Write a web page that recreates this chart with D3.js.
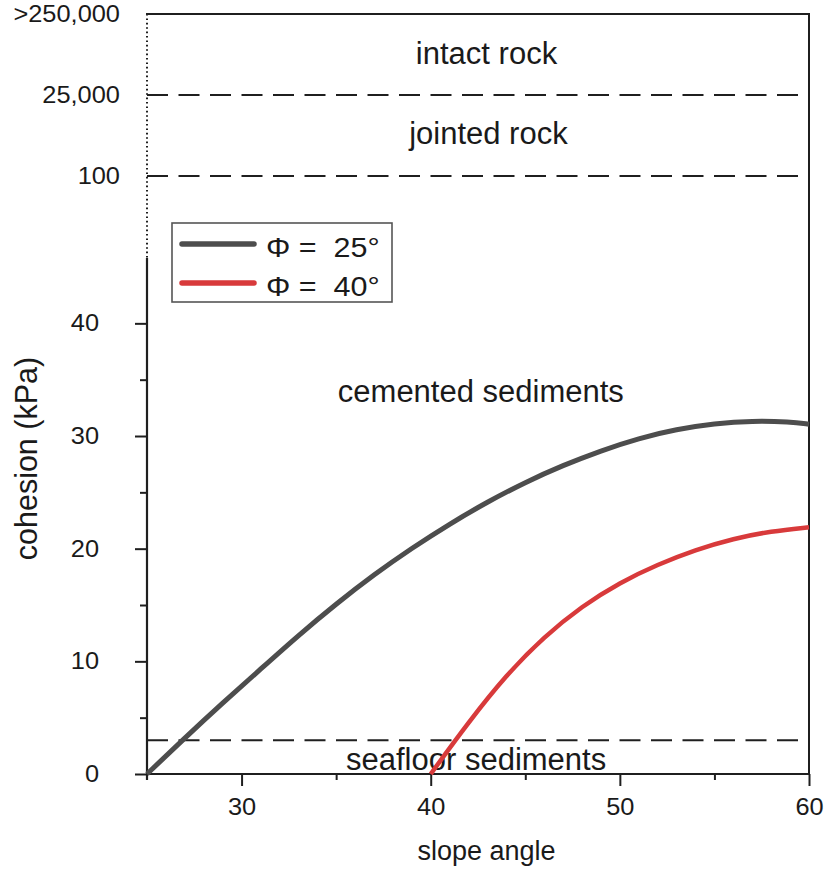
<!DOCTYPE html>
<html>
<head>
<meta charset="utf-8">
<script src="https://cdn.jsdelivr.net/npm/d3@7"></script>
<style>
  html, body { margin: 0; padding: 0; background: #fff; }
  svg { display: block; }
  text { font-family: "Liberation Sans", Arial, Helvetica, sans-serif; fill: #1a1a1a; }
</style>
</head>
<body>
<svg id="chart" width="826" height="870"></svg>
<script>
// Slope angle (degrees) vs. cohesion (kPa) needed for stability
const angles25   = [25, 27, 29, 31, 33, 35, 37, 39, 41, 43, 45, 47, 49, 51, 53, 55, 57, 59, 60];
const cohesion25 = [0, 3.2, 6.3, 9.3, 12.3, 15.1, 17.7, 20.05, 22.2, 24.15, 25.9, 27.4, 28.7, 29.8, 30.6, 31.1, 31.35, 31.25, 31.05];
const angles40   = [40, 42, 44, 46, 48, 50, 52, 54, 56, 58, 60];
const cohesion40 = [0, 4.6, 8.8, 12.2, 14.9, 17.0, 18.6, 19.9, 20.9, 21.55, 21.9];

const legendLabels = ["Φ =  25°", "Φ =  40°"];
const seriesColors = ["#4d4d4d", "#d83a3b"];

// Axis ticks
const xMajorTicks = [30, 40, 50, 60];
const xMinorTicks = [35, 45, 55];
const yMajorTicks = [0, 10, 20, 30, 40];
const yMinorTicks = [5, 15, 25, 35];
const rockLevels = [">250,000", "25,000", "100"];   // non-linear upper band
const seafloorLimit = 3;                             // kPa

const regionLabels = ["intact rock", "jointed rock", "cemented sediments", "seafloor sediments"];

const svg = d3.select("#chart");
const plotLeft = 147, plotRight = 809, plotBottom = 774, plotTop = 14, lowerTop = 258;

const x = d3.scaleLinear().domain([25, 60]).range([plotLeft, plotRight]);
const y = d3.scaleLinear().domain([0, 45.8]).range([plotBottom, lowerTop]);
const yRock = d3.scalePoint().domain(rockLevels).range([plotTop, 176]);

const ink = "#1f1f1f";

// Widen glyph runs slightly along the text direction
function widen(sel, k) {
  sel.each(function () {
    const len = this.getComputedTextLength();
    d3.select(this).attr("textLength", len * k).attr("lengthAdjust", "spacingAndGlyphs");
  });
}

// Frame: top and right edges
svg.append("line").attr("x1", plotLeft - 1).attr("x2", plotRight).attr("y1", plotTop).attr("y2", plotTop)
  .attr("stroke", ink).attr("stroke-width", 2);
svg.append("line").attr("x1", plotRight).attr("x2", plotRight).attr("y1", plotTop - 1).attr("y2", plotBottom)
  .attr("stroke", ink).attr("stroke-width", 2);

// Dotted axis segment for the rock band
svg.append("line").attr("x1", plotLeft).attr("x2", plotLeft).attr("y1", plotTop).attr("y2", lowerTop)
  .attr("stroke", ink).attr("stroke-width", 2).attr("stroke-dasharray", "1.6,2.8");

// Upper band labels
svg.append("g").selectAll("text").data(rockLevels).join("text")
  .attr("x", 120).attr("y", d => yRock(d)).attr("dy", "0.36em")
  .attr("text-anchor", "end").style("font-size", "23.5px").text(d => d)
  .call(widen, 1.08);

// Dashed boundaries
const dashed = [yRock("25,000"), yRock("100"), y(seafloorLimit)];
svg.append("g").selectAll("line").data(dashed).join("line")
  .attr("x1", plotLeft).attr("x2", plotRight - 4).attr("y1", d => d).attr("y2", d => d)
  .attr("stroke", ink).attr("stroke-width", 2).attr("stroke-dasharray", "21,10.5");

// Y axis
const yAxis = svg.append("g").attr("transform", `translate(${plotLeft},0)`)
  .call(d3.axisLeft(y).tickValues(yMajorTicks).tickSize(12).tickPadding(36).tickSizeOuter(0));
yAxis.select(".domain").remove();
yAxis.selectAll(".tick line").attr("stroke", ink).attr("stroke-width", 2);
yAxis.selectAll(".tick text").style("font-size", "23.5px").attr("fill", "#1a1a1a")
  .attr("font-family", null).call(widen, 1.08);
const yMinor = svg.append("g").attr("transform", `translate(${plotLeft},0)`)
  .call(d3.axisLeft(y).tickValues(yMinorTicks).tickSize(7).tickFormat(""));
yMinor.select(".domain").remove();
yMinor.selectAll(".tick line").attr("stroke", ink).attr("stroke-width", 2);
svg.append("line").attr("x1", plotLeft).attr("x2", plotLeft).attr("y1", lowerTop).attr("y2", plotBottom + 6)
  .attr("stroke", ink).attr("stroke-width", 2.2);

// X axis
const xAxis = svg.append("g").attr("transform", `translate(0,${plotBottom})`)
  .call(d3.axisBottom(x).tickValues(xMajorTicks).tickSize(12).tickPadding(12).tickSizeOuter(0));
xAxis.select(".domain").remove();
xAxis.selectAll(".tick line").attr("stroke", ink).attr("stroke-width", 2);
xAxis.selectAll(".tick text").style("font-size", "23.5px").attr("fill", "#1a1a1a")
  .attr("font-family", null).call(widen, 1.08);
const xMinor = svg.append("g").attr("transform", `translate(0,${plotBottom})`)
  .call(d3.axisBottom(x).tickValues(xMinorTicks).tickSize(6).tickFormat(""));
xMinor.select(".domain").remove();
xMinor.selectAll(".tick line").attr("stroke", ink).attr("stroke-width", 2);
svg.append("line").attr("x1", plotLeft - 1).attr("x2", plotRight + 1).attr("y1", plotBottom).attr("y2", plotBottom)
  .attr("stroke", ink).attr("stroke-width", 2.2);

// Axis titles
svg.append("text").attr("x", x(42.95)).attr("y", 860)
  .attr("text-anchor", "middle").style("font-size", "27px").text("slope angle");
svg.append("text").attr("transform", `translate(37,${y(28)}) rotate(-90)`)
  .attr("text-anchor", "middle").style("font-size", "30.5px").text("cohesion (kPa)");

// Region labels
svg.append("text").attr("x", x(42.95)).attr("y", (yRock(">250,000") + yRock("25,000")) / 2 + 9)
  .attr("text-anchor", "middle").style("font-size", "31px").text(regionLabels[0]);
svg.append("text").attr("x", x(43.05)).attr("y", (yRock("25,000") + yRock("100")) / 2 + 8)
  .attr("text-anchor", "middle").style("font-size", "31px").text(regionLabels[1]);
svg.append("text").attr("x", x(42.65)).attr("y", y(33))
  .attr("text-anchor", "middle").style("font-size", "31px").text(regionLabels[2]);
svg.append("text").attr("x", x(42.4)).attr("y", y(0.35))
  .attr("text-anchor", "middle").style("font-size", "31px").text(regionLabels[3]);

// Curves (B-spline through the sampled readings for a smooth trace)
const line = d3.line().curve(d3.curveBasis).x(d => x(d[0])).y(d => y(d[1]));
const series = [
  d3.zip(angles25, cohesion25),
  d3.zip(angles40, cohesion40)
];
svg.append("g").selectAll("path").data(series).join("path")
  .attr("d", line).attr("fill", "none")
  .attr("stroke", (d, i) => seriesColors[i])
  .attr("stroke-width", (d, i) => i === 0 ? 5 : 4.5);

// Legend
const lg = svg.append("g");
lg.append("rect").attr("x", 172).attr("y", 223).attr("width", 220).attr("height", 79)
  .attr("fill", "#fff").attr("stroke", "#555").attr("stroke-width", 1.6);
legendLabels.forEach((lab, i) => {
  const yy = 244 + i * 39;
  lg.append("line").attr("x1", 182).attr("x2", 254).attr("y1", yy).attr("y2", yy)
    .attr("stroke", seriesColors[i]).attr("stroke-width", 5.5).attr("stroke-linecap", "round");
  lg.append("text").attr("x", 266).attr("y", yy + 13)
    .style("font-size", "27px").style("white-space", "pre").text(lab)
    .call(widen, 1.13);
});
</script>
</body>
</html>
